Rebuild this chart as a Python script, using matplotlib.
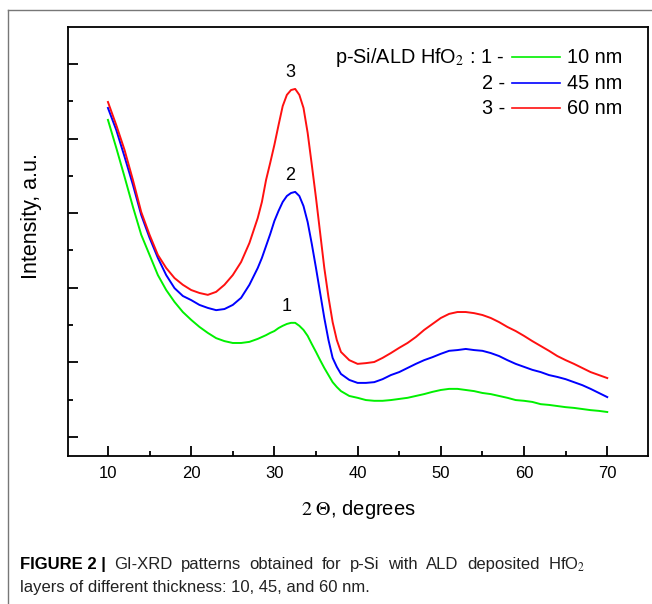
import numpy as np
import matplotlib
matplotlib.use('Agg')
import matplotlib.pyplot as plt
from matplotlib.lines import Line2D
from matplotlib.ticker import MultipleLocator

plt.rcParams['font.family'] = ['Liberation Sans', 'DejaVu Sans']
plt.rcParams['mathtext.fontset'] = 'stix'

# 2-theta grid (finer around the HfO2 peak)
two_theta = [10, 11, 12, 13, 14, 15, 16, 17, 18, 19, 20, 21, 22, 23, 24, 25, 26, 27, 28,
             28.5, 29, 29.5, 30, 30.5, 31, 31.5, 32, 32.5, 33, 33.5, 34, 34.5, 35, 35.5,
             36, 36.5, 37, 37.5, 38,
             39, 40, 41, 42, 43, 44, 45, 46, 47, 48, 49, 50, 51, 52, 53, 54, 55, 56, 57,
             58, 59, 60, 61, 62, 63, 64, 65, 66, 67, 68, 69, 70]

# intensity, arbitrary units
int_10nm = [8.50, 7.75, 6.97, 6.17, 5.42, 4.88, 4.34, 3.94, 3.62, 3.35, 3.14, 2.95, 2.79,
            2.65, 2.57, 2.52, 2.52, 2.55, 2.63,
            2.68, 2.73, 2.79, 2.84, 2.92, 2.98, 3.03, 3.06, 3.06, 2.98, 2.87, 2.71, 2.49,
            2.28, 2.06, 1.85, 1.66, 1.47, 1.34, 1.23,
            1.10, 1.05, 0.99, 0.97, 0.97, 0.99, 1.02, 1.05, 1.10, 1.15, 1.21, 1.26, 1.29,
            1.29, 1.26, 1.23, 1.18, 1.15, 1.10, 1.05, 0.99, 0.97, 0.94, 0.88, 0.86, 0.83,
            0.80, 0.78, 0.75, 0.72, 0.70, 0.67]

int_45nm = [8.82, 8.23, 7.51, 6.76, 5.95, 5.34, 4.80, 4.34, 3.99, 3.78, 3.67, 3.54, 3.46,
            3.40, 3.43, 3.54, 3.73, 4.08, 4.53,
            4.80, 5.12, 5.44, 5.79, 6.06, 6.30, 6.46, 6.54, 6.57, 6.46, 6.19, 5.76, 5.17,
            4.53, 3.86, 3.19, 2.60, 2.12, 1.88, 1.69,
            1.53, 1.45, 1.45, 1.47, 1.55, 1.66, 1.74, 1.85, 1.96, 2.06, 2.14, 2.23, 2.31,
            2.33, 2.36, 2.33, 2.31, 2.25, 2.17, 2.06, 1.96, 1.88, 1.80, 1.74, 1.66, 1.61,
            1.55, 1.47, 1.39, 1.29, 1.18, 1.07]

int_60nm = [8.98, 8.36, 7.69, 6.89, 6.03, 5.42, 4.88, 4.53, 4.26, 4.08, 3.94, 3.86, 3.81,
            3.89, 4.08, 4.34, 4.69, 5.20, 5.87,
            6.30, 6.89, 7.35, 7.83, 8.36, 8.87, 9.17, 9.30, 9.33, 9.17, 8.82, 8.15, 7.29,
            6.41, 5.47, 4.53, 3.75, 3.08, 2.60, 2.28,
            2.06, 1.96, 1.98, 2.01, 2.12, 2.25, 2.39, 2.52, 2.68, 2.87, 3.03, 3.19, 3.30,
            3.35, 3.35, 3.32, 3.27, 3.19, 3.08, 2.95, 2.84, 2.71, 2.57, 2.44, 2.31, 2.17,
            2.06, 1.96, 1.85, 1.74, 1.66, 1.58]

series = [('1', '10 nm', int_10nm, '#00f000'),
          ('2', '45 nm', int_45nm, '#0000ff'),
          ('3', '60 nm', int_60nm, '#ff1010')]

# peak number labels (x, y)
peak_labels = {'1': (31.5, 3.5), '2': (31.9, 7.0), '3': (31.9, 9.78)}

fig = plt.figure(figsize=(6.52, 6.04), dpi=100)
ax = fig.add_axes([0.1043, 0.245, 0.8896, 0.7103])

for num, name, vals, col in series:
    ax.plot(two_theta, vals, color=col, lw=1.4)
    px, py = peak_labels[num]
    ax.text(px, py, num, ha='center', va='center', fontsize=13)

ax.set_xlim(5.2, 74.9)
ax.set_ylim(-0.51, 10.99)
ax.xaxis.set_major_locator(MultipleLocator(10))
ax.xaxis.set_minor_locator(MultipleLocator(5))
ax.yaxis.set_major_locator(MultipleLocator(2))
ax.yaxis.set_minor_locator(MultipleLocator(1))
ax.tick_params(which='both', direction='in', width=1.3, top=False, right=False)
ax.tick_params(which='major', length=7, labelsize=12, pad=7)
ax.tick_params(which='minor', length=3.5)
ax.tick_params(axis='y', labelleft=False)
for sp in ax.spines.values():
    sp.set_linewidth(1.3)

ax.set_xlabel(r'$\mathrm{2\ \Theta}$, degrees', fontsize=14.5)
ax.xaxis.set_label_coords(0.5, -0.097)
ax.set_ylabel('Intensity, a.u.', fontsize=15.5)
ax.yaxis.set_label_coords(-0.045, 0.559)

# legend built by hand to match the original layout
rows_y = [0.930, 0.869, 0.811]
ax.text(0.753, rows_y[0], r'p-Si/ALD HfO$_2$ : 1 -', transform=ax.transAxes,
        ha='right', va='center', fontsize=14.3)
for i, (num, name, vals, col) in enumerate(series):
    if i > 0:
        ax.text(0.753, rows_y[i], num + ' -', transform=ax.transAxes,
                ha='right', va='center', fontsize=14.3)
    ax.plot([0.766, 0.848], [rows_y[i], rows_y[i]], color=col, lw=1.2,
            transform=ax.transAxes)
    ax.text(0.860, rows_y[i], name, transform=ax.transAxes,
            ha='left', va='center', fontsize=14.3)

# page frame and caption
fig.add_artist(Line2D([0.0123, 1.0], [0.9834, 0.9834], color='#777777', lw=1))
fig.add_artist(Line2D([0.0123, 0.0123], [0.0, 0.9834], color='#777777', lw=1))

W = fig.bbox.width
cap_size = 12
cap_y1, cap_y2 = 0.0646, 0.0265
fig.canvas.draw()
renderer = fig.canvas.get_renderer()

# first caption line is justified: spread the words out to the right edge
words = ['FIGURE 2 |', 'GI-XRD', 'patterns', 'obtained', 'for', 'p-Si', 'with',
         'ALD', 'deposited', r'HfO$_2$']
arts = []
for j, w in enumerate(words):
    t = fig.text(0, cap_y1, w, fontsize=cap_size, va='center',
                 fontweight='bold' if j == 0 else 'normal',
                 color='black' if j == 0 else '#222222')
    arts.append(t)
widths = [t.get_window_extent(renderer).width for t in arts]
x0, x1 = 20.0, 585.0
gap = (x1 - x0 - sum(widths)) / (len(words) - 1)
x = x0
for t, w in zip(arts, widths):
    t.set_x(x / W)
    x += w + gap

fig.text(20.0 / W, cap_y2, 'layers of different thickness: 10, 45, and 60 nm.',
         fontsize=cap_size, va='center', color='#222222')

fig.savefig('out.png', dpi=100)
